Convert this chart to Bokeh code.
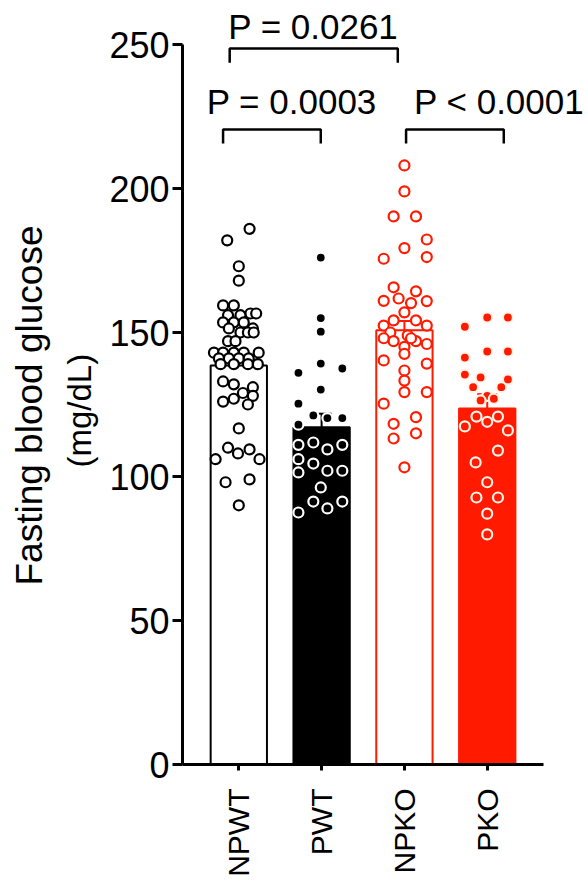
import math
from bokeh.plotting import figure
from bokeh.models import Range1d, FixedTicker, Title
from bokeh.embed import file_html
from bokeh.resources import INLINE
from bokeh.core.properties import value

# ---------------- data ----------------
groups = ["NPWT", "PWT", "NPKO", "PKO"]
means = [138.5, 117.1, 150.8, 123.6]
sems = [2.8, 4.7, 3.2, 5.0]

npwt_vals = [186, 182, 173, 168, 159.4, 159.4, 156.6, 156.6, 156, 156, 153.5, 153.5, 153.5,
             151.4, 151.4, 150, 150, 150, 147, 147, 143, 143, 143, 143, 143, 141, 141, 141, 141,
             139, 139, 139, 139, 133, 132, 131, 129, 128, 126, 127, 125, 116.7, 110, 108, 109.4,
             106, 106, 98, 99, 90]
npwt_dx = [0.13, -0.14, 0, 0, -0.19, -0.06, 0.14, 0.21, -0.13, 0.02, -0.19, -0.06, 0.06,
           -0.12, 0.17, 0.02, 0.11, 0.18, -0.13, -0.04, -0.30, -0.19, -0.06, 0.06, 0.24, -0.24, -0.12, 0, 0.12,
           -0.22, -0.06, 0.11, 0.23, -0.19, -0.06, 0.17, 0.05, 0.17, -0.19, -0.06, 0.11, 0, -0.13, -0.01, 0.13,
           -0.28, 0.25, -0.16, 0.13, 0]

pwt_vals = [176, 155, 150.3, 139.2, 136, 137.5, 130.2, 125.3, 121.2, 120.3, 120.3, 118, 111, 111.8,
            109.4, 111, 106, 104.5, 102, 102, 101.4, 96.2, 91.3, 91.3, 88.9, 87.5]
pwt_dx = [-0.01, -0.01, -0.01, -0.01, -0.28, 0.25, -0.01, -0.28, -0.10, 0.07, 0.25, -0.28, -0.28, -0.10,
          0.07, 0.25, -0.28, -0.10, 0.07, 0.25, -0.28, -0.01, -0.10, 0.25, 0.07, -0.28]

npko_vals = [208, 199, 190.3, 190.3, 182.3, 179.3, 176.2, 175.6, 165.7, 164.3, 161, 161.8, 160.9, 160.2,
             157, 152.4, 154.2, 154.2, 152.4, 150, 149, 148, 147, 147, 146, 145, 148, 140.3, 142.6, 139.2,
             136.8, 133.3, 129.3, 129.3, 125.3, 120.6, 118.3, 115, 113.2, 103.2]
npko_dx = [0, 0, -0.13, 0.14, 0.27, 0, 0.27, -0.25, -0.13, 0.14, -0.25, -0.07, 0.27, 0.08,
           0, -0.25, -0.13, 0.14, 0.27, -0.17, 0.04, -0.25, -0.13, 0.14, 0.27, 0, 0.08, -0.25, 0, 0.27,
           0, 0, 0, 0.27, -0.25, 0.14, -0.13, 0.14, -0.13, 0]

pko_vals = [155.2, 155.2, 152, 141.3, 143.4, 143.4, 135.4, 134.4, 133.7, 131, 131, 128, 126.4, 127,
            120.8, 119, 120.8, 117.4, 116, 109, 104.9, 98, 92.7, 92.7, 87.1, 79.9]
pko_dx = [0, 0.25, -0.27, -0.27, 0, 0.25, -0.27, -0.08, 0.25, -0.17, 0.17, 0, -0.08, 0.08,
          -0.13, 0, 0.13, -0.27, 0.25, 0.13, -0.14, 0, -0.13, 0.13, 0, 0]

comparisons = [("NPWT", "PWT", "P = 0.0003"),
               ("NPKO", "PKO", "P < 0.0001"),
               ("NPWT", "NPKO", "P = 0.0261")]
bracket_heights = [220.5, 220.5, 248.6]
bracket_ends = [(-0.19, -0.01), (0.02, 0.20), (-0.11, -0.08)]   # leg offsets from group centres
label_centres = [0.64, 3.145, 0.90]
label_heights = [230.3, 230.3, 256.4]

y_ticks = [0, 50, 100, 150, 200, 250]
y_title = ["Fasting blood glucose", "(mg/dL)"]

# ---------------- styling ----------------
RED = "#ff1a00"
FONT = "Liberation Sans"
bar_fill = ["white", "black", "white", RED]
bar_line = ["black", "black", RED, RED]
pt_fill = ["white", "black", "white", RED]
pt_line = ["black", "white", RED, "#fff4e8"]
BAR_W = 0.68

p = figure(width=586, height=880, output_backend="svg", toolbar_location=None,
           x_range=Range1d(-0.68, 4.199), y_range=Range1d(0, 262.5),
           min_border_left=182, min_border_right=0, min_border_top=8, min_border_bottom=116,
           background_fill_color="white", border_fill_color="white")
p.outline_line_color = None
p.xgrid.visible = False
p.ygrid.visible = False

idx = list(range(len(groups)))
p.vbar(x=idx, top=means, bottom=0, width=BAR_W, fill_color=bar_fill, line_color=bar_line, line_width=2)

# error bars (upper only)
err_top = [m + s for m, s in zip(means, sems)]
p.segment(x0=idx, y0=means, x1=idx, y1=err_top, line_color=bar_line, line_width=2)
p.segment(x0=[i - 0.12 for i in idx], y0=err_top, x1=[i + 0.12 for i in idx], y1=err_top,
          line_color=bar_line, line_width=2)

all_vals = [npwt_vals, pwt_vals, npko_vals, pko_vals]
all_dx = [npwt_dx, pwt_dx, npko_dx, pko_dx]
for i, (vals, dxs) in enumerate(zip(all_vals, all_dx)):
    xs = [i + d for d in dxs]
    p.scatter(x=xs, y=vals, size=10, marker="circle", fill_color=pt_fill[i],
              line_color=pt_line[i], line_width=2.2)

# significance brackets
leg = 4.9
for (a, b, txt), h, (da, db), lc, lh in zip(comparisons, bracket_heights, bracket_ends,
                                            label_centres, label_heights):
    ia, ib = groups.index(a), groups.index(b)
    x0, x1 = ia + da, ib + db
    p.line(x=[x0, x0, x1, x1], y=[h - leg, h, h, h - leg], line_color="black", line_width=2.5)
    p.text(x=[lc], y=[lh], text=[txt], text_align="center",
           text_baseline="alphabetic", text_font=value(FONT), text_font_size="35px", text_color="black")

# axes
ya = p.yaxis[0]
ya.bounds = (0, 250)
ya.ticker = FixedTicker(ticks=y_ticks)
ya.minor_tick_line_color = None
ya.major_tick_in = 0
ya.major_tick_out = 10
ya.major_tick_line_width = 3
ya.axis_line_width = 3
ya.major_label_text_font = FONT
ya.major_label_text_font_size = "36px"
ya.major_label_text_color = "black"
ya.major_label_standoff = 3

# two-line y title as two side titles (inner line first)
for text, size, off, stand in [(y_title[1], "33px", 297, 17),
                               (y_title[0], "37px", 179, 2)]:
    t = Title(text=text, align="left", offset=off, standoff=stand,
              text_font=FONT, text_font_size=size, text_font_style="normal", text_color="black")
    p.add_layout(t, "left")

xa = p.xaxis[0]
xa.bounds = (-0.68, 3.68)
xa.ticker = FixedTicker(ticks=idx)
xa.major_label_overrides = {i: g for i, g in enumerate(groups)}
xa.minor_tick_line_color = None
xa.major_tick_in = 0
xa.major_tick_out = 6
xa.major_tick_line_width = 3
xa.axis_line_width = 3
xa.major_label_orientation = math.pi / 2
xa.major_label_text_font = FONT
xa.major_label_text_font_size = "30px"
xa.major_label_text_color = "black"
xa.major_label_standoff = 18

open("out.html", "w").write(file_html(p, INLINE))
